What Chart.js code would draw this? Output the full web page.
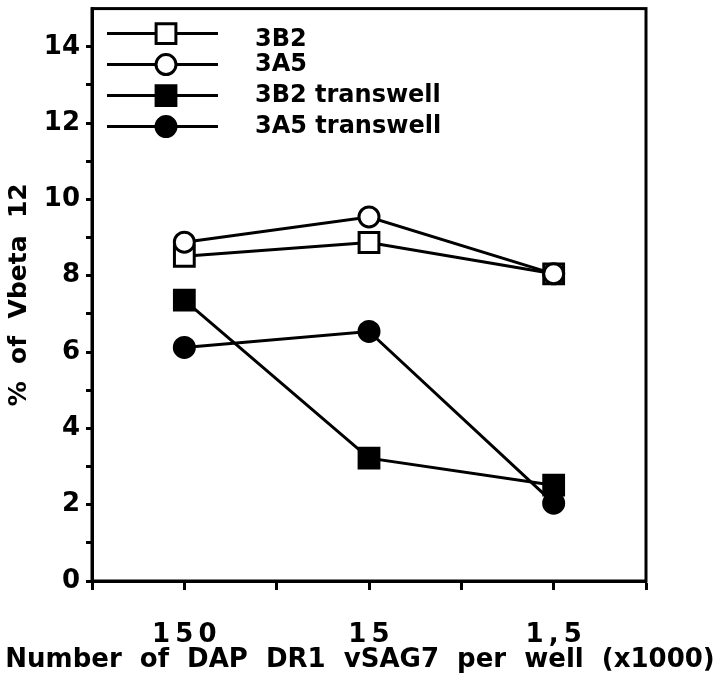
<!DOCTYPE html>
<html>
<head>
<meta charset="utf-8">
<script src="https://cdn.jsdelivr.net/npm/chart.js@4.4.0/dist/chart.umd.min.js"></script>
<style>
  html, body { margin:0; padding:0; background:#fff; }
  #wrap { width:720px; height:674px; }
</style>
</head>
<body>
<div id="wrap"><canvas id="chart" width="720" height="674"></canvas></div>
<script>
// cell numbers (x1000) per well
const categories = ['1\u20095\u20090', '1\u20095', '1\u2009,\u20095'];
const yTicks = [0, 2, 4, 6, 8, 10, 12, 14];

const vb3B2 = [8.51, 8.87, 8.05];
const vb3A5 = [8.88, 9.54, 8.05];
const vb3B2Transwell = [7.36, 3.22, 2.51];
const vb3A5Transwell = [6.12, 6.54, 2.04];

const seriesNames = ['3B2', '3A5', '3B2 transwell', '3A5 transwell'];
const xTitle = 'Number  of  DAP  DR1  vSAG7  per  well  (x1000)';

const FONT = '"DejaVu Sans", "Liberation Sans", sans-serif';

function pts(arr){ return arr.map((v, i) => ({ x: i, y: v })); }

function makeSet(label, data, style, filled, order){
    return {
        label: label,
        data: pts(data),
        order: order,
        borderColor: '#000',
        borderWidth: 3,
        pointStyle: style,
        pointRadius: style === 'rect' ? 14 : 10,
        pointBorderWidth: 3,
        pointBorderColor: '#000',
        pointBackgroundColor: filled ? '#000' : '#fff',
        fill: false,
        tension: 0
    };
}

// legend drawn as line + marker + text, like the original figure
const legendPlugin = {
    id: 'figLegend',
    afterDatasetsDraw(chart){
        const ctx = chart.ctx, ca = chart.chartArea;
        ctx.save();
        chart.data.datasets.forEach((ds, i) => {
            const y = ca.top + 25 + i * 31;
            const x0 = ca.left + 15, x1 = ca.left + 126, xm = ca.left + 74;
            ctx.strokeStyle = '#000';
            ctx.lineWidth = 3;
            ctx.beginPath(); ctx.moveTo(x0, y); ctx.lineTo(x1, y); ctx.stroke();
            ctx.fillStyle = ds.pointBackgroundColor;
            ctx.beginPath();
            if (ds.pointStyle === 'rect') {
                const h = ds.pointRadius * Math.SQRT1_2;
                ctx.rect(xm - h, y - h, 2 * h, 2 * h);
            } else {
                ctx.arc(xm, y, ds.pointRadius, 0, Math.PI * 2);
            }
            ctx.fill(); ctx.stroke();
            ctx.fillStyle = '#000';
            ctx.font = 'bold 24px ' + FONT;
            ctx.textBaseline = 'middle';
            ctx.textAlign = 'left';
            ctx.fillText(seriesNames[i], ca.left + 163, y + (i === 0 ? 6 : 0));
        });
        ctx.restore();
    }
};

// closed frame around the plot + the wide x title (wider than the plot)
const framePlugin = {
    id: 'frame',
    beforeDatasetsDraw(chart){
        const ctx = chart.ctx, ca = chart.chartArea;
        ctx.save();
        ctx.strokeStyle = '#000';
        ctx.lineWidth = 3;
        ctx.strokeRect(ca.left, ca.top, ca.right - ca.left, ca.bottom - ca.top);
        ctx.fillStyle = '#000';
        ctx.font = 'bold 26px ' + FONT;
        ctx.textAlign = 'center';
        ctx.textBaseline = 'middle';
        ctx.fillText(xTitle, chart.width / 2, 660);
        ctx.restore();
    }
};

new Chart(document.getElementById('chart'), {
    type: 'line',
    data: {
        datasets: [
            makeSet(seriesNames[0], vb3B2, 'rect', false, 2),
            makeSet(seriesNames[1], vb3A5, 'circle', false, 1),
            makeSet(seriesNames[2], vb3B2Transwell, 'rect', true, 4),
            makeSet(seriesNames[3], vb3A5Transwell, 'circle', true, 3)
        ]
    },
    options: {
        responsive: false,
        animation: false,
        layout: { autoPadding: false, padding: { top: 2, right: 74, left: 0, bottom: 0 } },
        plugins: { legend: { display: false }, tooltip: { enabled: false } },
        scales: {
            x: {
                type: 'linear',
                min: -0.5, max: 2.5,
                afterFit(s){ s.height = 93; },
                afterBuildTicks(s){
                    s.ticks = [-0.5, 0, 0.5, 1, 1.5, 2, 2.5].map(v => ({ value: v }));
                },
                ticks: {
                    autoSkip: false,
                    maxRotation: 0,
                    padding: 30,
                    color: '#000',
                    font: { family: FONT, size: 26, weight: 'bold' },
                    callback: v => Number.isInteger(v) && categories[v] !== undefined ? categories[v] : ''
                },
                grid: { drawOnChartArea: false, drawTicks: true, tickLength: 9, tickWidth: 3, color: '#000' },
                border: { display: true, width: 3, color: '#000' },
                title: { display: false }
            },
            y: {
                min: 0, max: 15,
                afterFit(s){ s.width = 92; },
                afterBuildTicks(s){
                    const t = [];
                    for (let v = 0; v <= 14; v++) t.push({ value: v });
                    s.ticks = t;
                },
                ticks: {
                    autoSkip: false,
                    padding: 6,
                    color: '#000',
                    // small lineHeight so the top label does not push the plot down
                    font: { family: FONT, size: 26, weight: 'bold', lineHeight: 0.2 },
                    callback: v => yTicks.includes(v) ? String(v) : ''
                },
                grid: { drawOnChartArea: false, drawTicks: true, tickLength: 6, tickWidth: 3, color: '#000' },
                border: { display: true, width: 3, color: '#000' },
                title: {
                    display: true,
                    text: '%  of  Vbeta  12',
                    color: '#000',
                    font: { family: FONT, size: 25, weight: 'bold' },
                    padding: { top: 4, bottom: 4 }
                }
            }
        }
    },
    plugins: [framePlugin, legendPlugin]
});
</script>
</body>
</html>
